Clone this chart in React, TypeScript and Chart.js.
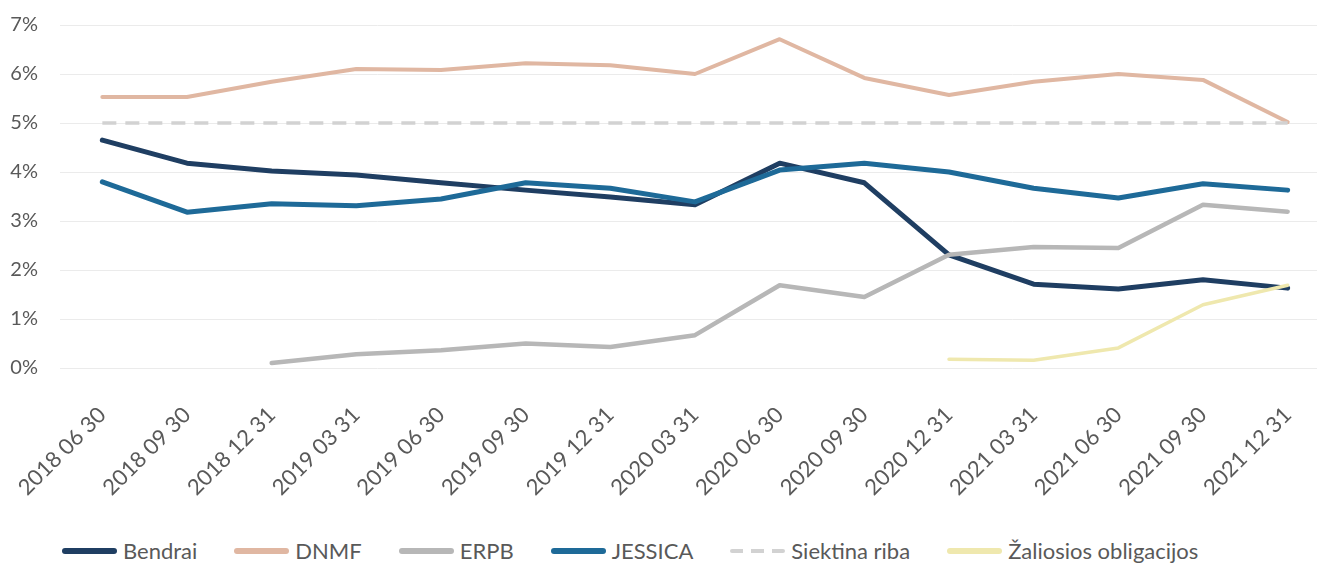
import React, { useEffect, useRef } from "react";
import { Chart, registerables } from "chart.js";

Chart.register(...registerables);

const categories = [
  "2018 06 30", "2018 09 30", "2018 12 31", "2019 03 31", "2019 06 30",
  "2019 09 30", "2019 12 31", "2020 03 31", "2020 06 30", "2020 09 30",
  "2020 12 31", "2021 03 31", "2021 06 30", "2021 09 30", "2021 12 31",
];

const bendrai = [4.65, 4.18, 4.02, 3.94, 3.78, 3.63, 3.49, 3.33, 4.18, 3.78, 2.31, 1.71, 1.61, 1.80, 1.63];
const dnmf = [5.53, 5.53, 5.84, 6.10, 6.08, 6.22, 6.18, 6.0, 6.71, 5.92, 5.57, 5.84, 6.0, 5.88, 5.02];
const erpb = [null, null, 0.10, 0.28, 0.36, 0.50, 0.43, 0.67, 1.69, 1.45, 2.31, 2.47, 2.45, 3.33, 3.19];
const jessica = [3.80, 3.18, 3.35, 3.31, 3.45, 3.78, 3.67, 3.39, 4.04, 4.18, 4.0, 3.67, 3.47, 3.76, 3.63];
const siektinaRiba = [5, 5, 5, 5, 5, 5, 5, 5, 5, 5, 5, 5, 5, 5, 5];
const zaliosios = [null, null, null, null, null, null, null, null, null, null, 0.18, 0.16, 0.41, 1.29, 1.69];

const yTicks = [0, 1, 2, 3, 4, 5, 6, 7];

const FONT = "Lato, 'Open Sans', sans-serif";
const TEXT = "#595959";

const series = [
  { label: "Bendrai", data: bendrai, color: "#1f3e62", width: 5, dash: [] as number[] },
  { label: "DNMF", data: dnmf, color: "#e0b7a2", width: 4, dash: [] as number[] },
  { label: "ERPB", data: erpb, color: "#b7b7b7", width: 4.5, dash: [] as number[] },
  { label: "JESSICA", data: jessica, color: "#1e6a98", width: 5, dash: [] as number[] },
  { label: "Siektina riba", data: siektinaRiba, color: "#d2d2d2", width: 3.5, dash: [14, 9] },
  { label: "Žaliosios obligacijos", data: zaliosios, color: "#efe8ae", width: 3.5, dash: [] as number[] },
];

export default function App() {
  const ref = useRef<HTMLCanvasElement | null>(null);

  useEffect(() => {
    if (!ref.current) return;
    const chart = new Chart(ref.current, {
      type: "line",
      data: {
        labels: categories,
        datasets: series.map((s, i) => ({
          label: s.label,
          data: s.data,
          borderColor: s.color,
          backgroundColor: s.color,
          borderWidth: s.width,
          borderDash: s.dash,
          borderCapStyle: s.dash.length ? "butt" : "round",
          borderJoinStyle: "round",
          pointRadius: 0,
          pointHoverRadius: 0,
          tension: 0,
          spanGaps: false,
          fill: false,
          order: series.length - i,
        })) as any,
      },
      options: {
        responsive: false,
        animation: false,
        devicePixelRatio: 1,
        layout: { padding: { top: 25, right: 10, bottom: 0, left: 0 } },
        plugins: {
          legend: { display: false },
          tooltip: { enabled: false },
        },
        scales: {
          x: {
            type: "category",
            offset: true,
            grid: { display: false, drawTicks: false },
            border: { display: false },
            ticks: {
              autoSkip: false,
              minRotation: 45,
              maxRotation: 45,
              padding: 34,
              color: TEXT,
              font: { family: FONT, size: 22 },
            },
            afterFit: (scale: any) => {
              scale.height = 132;
              scale.paddingLeft = 0;
              scale.paddingRight = 0;
            },
          },
          y: {
            min: 0,
            max: 7,
            afterBuildTicks: (scale: any) => {
              scale.ticks = yTicks.map((v) => ({ value: v }));
            },
            grid: { color: "#ebebeb", lineWidth: 1, drawTicks: false },
            border: { display: false },
            ticks: {
              padding: 22,
              color: TEXT,
              font: { family: FONT, size: 20 },
              callback: (v: any) => `${v}%`,
            },
            afterFit: (scale: any) => {
              scale.width = 60;
              scale.paddingTop = 0;
              scale.paddingBottom = 0;
            },
          },
        },
      },
    });
    return () => chart.destroy();
  }, []);

  return (
    <div
      style={{
        position: "fixed",
        left: 0,
        top: 0,
        width: 1317,
        height: 563,
        overflow: "hidden",
        background: "#ffffff",
      }}
    >
      <canvas ref={ref} width={1340} height={500} style={{ width: 1340, height: 500, display: "block" }} />
      <div
        style={{
          position: "absolute",
          left: 62,
          top: 538,
          display: "flex",
          alignItems: "center",
          fontFamily: FONT,
          fontSize: 22,
          color: TEXT,
          whiteSpace: "nowrap",
          lineHeight: "26px",
        }}
      >
        {series.map((s) => (
          <div key={s.label} style={{ display: "flex", alignItems: "center", marginRight: 37 }}>
            <div
              style={{
                width: 55,
                height: s.dash.length ? 4 : 6,
                borderRadius: 3,
                marginRight: 6,
                background: s.dash.length
                  ? `repeating-linear-gradient(90deg, ${s.color} 0 13px, transparent 13px 21px)`
                  : s.color,
              }}
            />
            <span>{s.label}</span>
          </div>
        ))}
      </div>
    </div>
  );
}
